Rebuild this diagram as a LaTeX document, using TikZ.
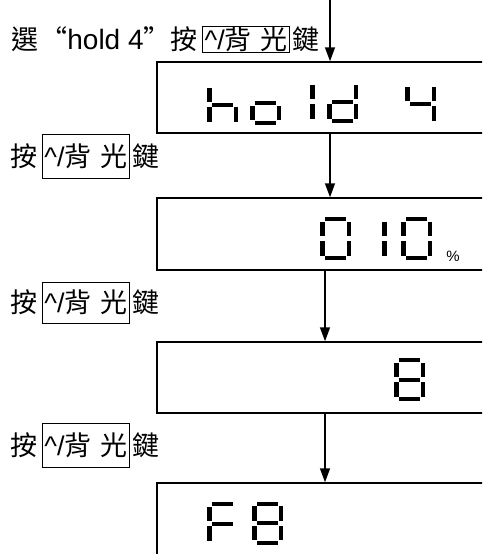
\documentclass[tikz,border=0pt]{standalone}
\usepackage{fontspec}
\setmainfont{Liberation Sans}
\newfontfamily\cjk{Noto Sans CJK TC}
\usetikzlibrary{arrows.meta,positioning}
\tikzset{every picture/.style={line width=0.75pt}}

% 七段显示器的各段 (以左上角为原点)
\def\lcdsega{(5,0) rectangle (26,4)}
\def\lcdsegb{(26.5,4.5) rectangle (31,19)}
\def\lcdsegc{(26.5,24) rectangle (31,38.5)}
\def\lcdsegd{(5,39) rectangle (26,43)}
\def\lcdsege{(0,24) rectangle (4.5,38.5)}
\def\lcdsegf{(0,4.5) rectangle (4.5,19)}
\def\lcdsegg{(5,19.5) rectangle (26,23.5)}
\newcommand{\lcddigit}[3]{%
  \begin{scope}[shift={(#1,#2)}]
    \foreach \s in {#3} {\expandafter\fill\csname lcdseg\s\endcsname;}
  \end{scope}}

\begin{document}
\begin{tikzpicture}[x=1pt,y=-1pt,
    lcd/.style={draw, line width=1.5pt, inner sep=0pt, minimum width=400pt},
    flow/.style={-{Triangle[length=14pt,width=10pt]}, line width=1.5pt},
    txt/.style={inner sep=0pt, font=\fontsize{27}{30}\selectfont},
    keybox/.style={draw, line width=1.2pt, inner xsep=2pt, inner ysep=0pt,
      font=\fontsize{27}{30}\selectfont}]
    \useasboundingbox (0,0) rectangle (482,554);
    \clip (0,0) rectangle (482,554);

    % 显示框
    \node[lcd, minimum height=71pt] (box1) at (357,97.5) {};
    \node[lcd, minimum height=72pt] (box2) at (357,234) {};
    \node[lcd, minimum height=71pt] (box3) at (357,377.5) {};
    \node[lcd, minimum height=100pt] (box4) at (357,533) {};

    % 箭头
    \coordinate (c1) at (330,0);
    \coordinate (c2) at (325,0);
    \draw[flow] (c1) -- (c1 |- box1.north);
    \draw[flow] (box1.south -| c1) -- (box2.north -| c1);
    \draw[flow] (box2.south -| c2) -- (box3.north -| c2);
    \draw[flow] (box3.south -| c2) -- (box4.north -| c2);

    % 第一步说明
    \node[txt, anchor=west] (sel) at (11,39)
      {{\cjk 選}\hspace{2pt}{\cjk “}{\fontsize{28}{30}\selectfont hold 4}{\cjk ”按}};
    \node[keybox, minimum height=26pt, base right=4pt of sel] (key1)
      {\textasciicircum/{\cjk 背}\hspace{9pt}{\cjk 光}};
    \node[txt, base right=2pt of key1] (jian1) {\cjk 鍵};

    % 其余按键说明
    \foreach \i/\y/\h in {2/156/44, 3/302.5/41, 4/445/44} {
      \node[txt, anchor=west] (an\i) at (10,\y) {\cjk 按};
      \node[keybox, minimum height=\h pt, base right=4pt of an\i] (key\i)
        {\textasciicircum/{\cjk 背}\hspace{9pt}{\cjk 光}};
      \node[txt, base right=2pt of key\i] (jian\i) {\cjk 鍵};
    }

    % hold 4
    \lcddigit{207}{83}{f,e,g,c}
    \lcddigit{250}{81.5}{g,e,c,d}
    \lcddigit{310}{80}{f,e}
    \lcddigit{327}{80}{b,c,g,e,d}
    \lcddigit{405}{82}{f,g,b,c}

    % 010 %
    \lcddigit{320}{217}{a,b,c,d,e,f}
    \lcddigit{382}{217}{f,e}
    \lcddigit{401}{217}{a,b,c,d,e,f}
    \node[font=\fontsize{15}{17}\selectfont, inner sep=0pt] (pct) at (453,256) {\%};

    % 8
    \lcddigit{394}{358}{a,b,c,d,e,f,g}

    % F8
    \lcddigit{207}{502}{a,f,g,e}
    \lcddigit{252}{501.5}{a,b,c,d,e,f,g}
\end{tikzpicture}
\end{document}
